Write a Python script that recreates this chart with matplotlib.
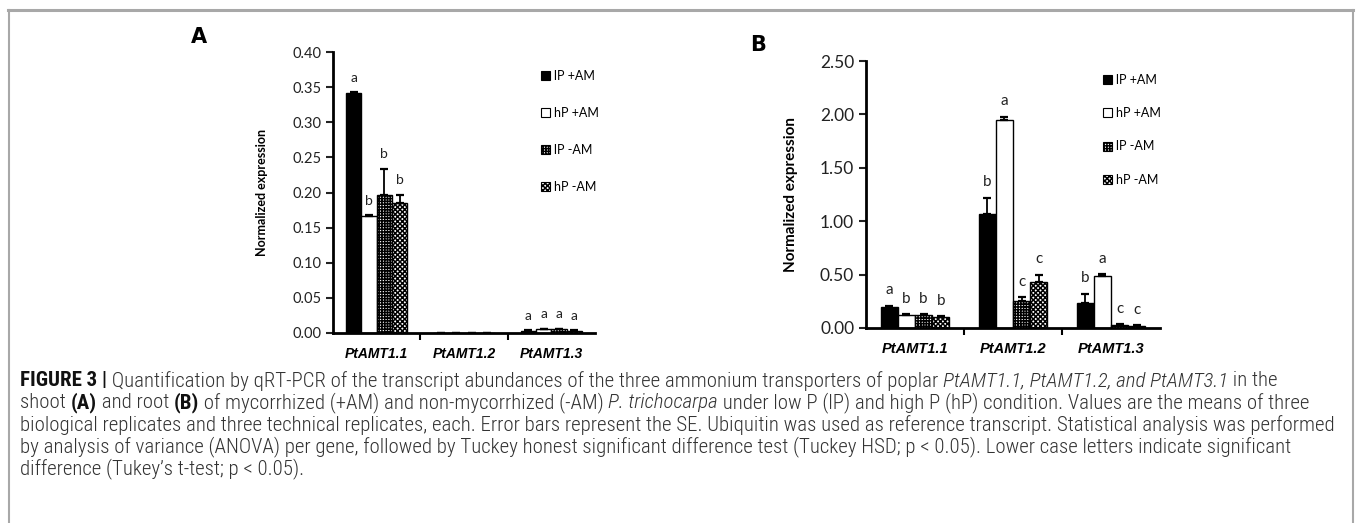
import matplotlib

matplotlib.use("Agg")
import matplotlib.pyplot as plt
import numpy as np
from matplotlib import font_manager
from matplotlib.lines import Line2D
from matplotlib.patches import Patch

genes = ["PtAMT1.1", "PtAMT1.2", "PtAMT1.3"]
conditions = ["lP +AM", "hP +AM", "lP -AM", "hP -AM"]

# shoot (A): rows = conditions, cols = genes
shoot_means = [
    [0.342, 0.0, 0.003],
    [0.166, 0.0, 0.005],
    [0.197, 0.0, 0.005],
    [0.185, 0.0, 0.003],
]
shoot_se = [
    [0.001, 0.0, 0.001],
    [0.002, 0.0, 0.001],
    [0.037, 0.0, 0.001],
    [0.012, 0.0, 0.001],
]
shoot_letters = [["a", "", "a"], ["b", "", "a"], ["b", "", "a"], ["b", "", "a"]]

# root (B)
root_means = [
    [0.200, 1.07, 0.235],
    [0.125, 1.95, 0.490],
    [0.120, 0.25, 0.030],
    [0.100, 0.43, 0.020],
]
root_se = [
    [0.010, 0.15, 0.085],
    [0.005, 0.03, 0.015],
    [0.010, 0.04, 0.005],
    [0.010, 0.07, 0.005],
]
root_letters = [["a", "b", "b"], ["b", "a", "a"], ["b", "c", "c"], ["b", "c", "c"]]

caption_lines = [
    [("FIGURE 3 |", "bold"), (" Quantification by qRT-PCR of the transcript abundances of the three ammonium transporters of poplar ", "normal"),
     ("PtAMT1.1, PtAMT1.2, and PtAMT3.1", "italic"), (" in the", "normal")],
    [("shoot ", "normal"), ("(A)", "bold"), (" and root ", "normal"), ("(B)", "bold"),
     (" of mycorrhized (+AM) and non-mycorrhized (-AM) ", "normal"), ("P. trichocarpa", "italic"),
     (" under low P (lP) and high P (hP) condition. Values are the means of three", "normal")],
    [("biological replicates and three technical replicates, each. Error bars represent the SE. Ubiquitin was used as reference transcript. Statistical analysis was performed", "normal")],
    [("by analysis of variance (ANOVA) per gene, followed by Tuckey honest significant difference test (Tuckey HSD; p < 0.05). Lower case letters indicate significant", "normal")],
    [("difference (Tukey\u2019s t-test; p < 0.05).", "normal")],
]

installed = {f.name for f in font_manager.fontManager.ttflist}


def first_font(*names):
    for n in names:
        if n in installed:
            return n
    return "DejaVu Sans"


chart_font = first_font("Lato", "Open Sans")
cap_font = first_font("Liberation Sans Narrow", "Roboto Condensed", "Roboto", "Liberation Sans")
label_font = first_font("Liberation Sans Narrow", "Liberation Sans", "Roboto")

plt.rcParams["font.family"] = [chart_font, "DejaVu Sans"]
plt.rcParams["hatch.linewidth"] = 1.1

W, H = 1356, 523
fig = plt.figure(figsize=(W / 100, H / 100), dpi=100)

styles = [
    dict(facecolor="black", hatch=None),
    dict(facecolor="white", hatch=None),
    dict(facecolor="white", hatch="++++++"),
    dict(facecolor="white", hatch="xxxxxxx"),
]


def px_rect(x0, y_top, x1, y_bot):
    return [x0 / W, 1 - y_bot / H, (x1 - x0) / W, (y_bot - y_top) / H]


def panel(rect, means, se, letters, ymax, ystep, tick_fs, ylab_fs, xlab_fs, let_fs):
    ax = fig.add_axes(rect)
    x = np.arange(len(genes))
    width = 0.175
    for i, cond in enumerate(conditions):
        pos = x + (i - 1.5) * width
        ax.bar(pos, means[i], width, edgecolor="black", linewidth=1.0,
               label=cond, **styles[i])
        err = np.array(se[i])
        ax.errorbar(pos, means[i], yerr=[np.zeros_like(err), err], fmt="none",
                    ecolor="black", elinewidth=1.3, capsize=3, capthick=1.6)
        for j, letter in enumerate(letters[i]):
            if letter:
                ax.annotate(letter, (pos[j], means[i][j] + se[i][j]),
                            xytext=(0, 6), textcoords="offset points",
                            ha="center", va="bottom", fontsize=let_fs,
                            color="#222222")
    ax.set_xlim(-0.5, len(genes) - 0.5)
    ax.set_ylim(0, ymax)
    ax.set_yticks(np.arange(0, ymax + ystep / 2, ystep))
    ax.yaxis.set_major_formatter(matplotlib.ticker.FormatStrFormatter("%.2f"))
    ax.set_xticks(x)
    ax.set_xticklabels(genes, fontsize=xlab_fs, fontweight="bold",
                       fontstyle="italic", family=[label_font, "DejaVu Sans"])
    ax.set_xticks(x[:-1] + 0.5, minor=True)
    ax.tick_params(axis="x", which="major", length=0, pad=10)
    ax.tick_params(axis="x", which="minor", length=5, width=1.5, direction="out")
    ax.tick_params(axis="y", length=5, width=1.5, direction="out",
                   labelsize=tick_fs, colors="#222222")
    for side in ("top", "right"):
        ax.spines[side].set_visible(False)
    for side in ("left", "bottom"):
        ax.spines[side].set_linewidth(2)
    ax.set_ylabel("Normalized expression", fontsize=ylab_fs, fontweight="bold")
    return ax


axA = panel(px_rect(333, 52, 595, 333), shoot_means, shoot_se, shoot_letters,
            0.40, 0.05, 10.5, 9, 10, 10)
axA.yaxis.set_label_coords(-0.25, 0.5)
axB = panel(px_rect(866, 61, 1160, 328), root_means, root_se, root_letters,
            2.50, 0.50, 12.5, 11, 10.5, 11)
axB.yaxis.set_label_coords(-0.23, 0.5)

for ax, x0, y0, spacing in ((axA, 541, 70, 2.0), (axB, 1103, 74, 1.7)):
    handles = [Patch(edgecolor="black", linewidth=0.8, **s) for s in styles]
    ax.legend(handles, conditions, loc="upper left",
              bbox_to_anchor=(x0 / W, 1 - y0 / H), bbox_transform=fig.transFigure,
              frameon=False, fontsize=9, handlelength=0.75, handleheight=0.75,
              handletextpad=0.3, labelspacing=spacing, borderpad=0, borderaxespad=0)

fig.text(199 / W, 1 - 37 / H, "A", fontsize=15, fontweight="bold",
         ha="center", va="center", family="DejaVu Sans")
fig.text(758 / W, 1 - 45 / H, "B", fontsize=15, fontweight="bold",
         ha="center", va="center", family="DejaVu Sans")

# frame around the figure
gray = "#a8a8a8"
fig.add_artist(Line2D([8 / W, 1353 / W], [1 - 9.5 / H] * 2, color=gray, lw=2.2))
fig.add_artist(Line2D([8.5 / W] * 2, [0, 1 - 9.5 / H], color=gray, lw=1.5))
fig.add_artist(Line2D([1352.5 / W] * 2, [0, 1 - 9.5 / H], color=gray, lw=1.5))

# caption, drawn run by run
renderer = fig.canvas.get_renderer()


def run_props(style, size):
    props = dict(fontsize=size, family=[cap_font, "DejaVu Sans"], color="#333333",
                 fontweight="light")
    if style == "bold":
        props.update(fontweight="bold", color="#111111")
    elif style == "italic":
        props.update(fontstyle="italic")
    return props


def line_width(runs, size):
    total = 0
    for txt, style in runs:
        t = fig.text(0, 0, txt, **run_props(style, size))
        total += t.get_window_extent(renderer).width
        t.remove()
    return total


cap_size = 10 * 1316 / line_width(caption_lines[2], 10)
y_px = 381
for runs in caption_lines:
    x_px = 20
    for txt, style in runs:
        t = fig.text(x_px / W, 1 - y_px / H, txt, va="center", ha="left",
                     **run_props(style, cap_size))
        x_px += t.get_window_extent(renderer).width
    y_px += 22

fig.savefig("out.png", dpi=100)
